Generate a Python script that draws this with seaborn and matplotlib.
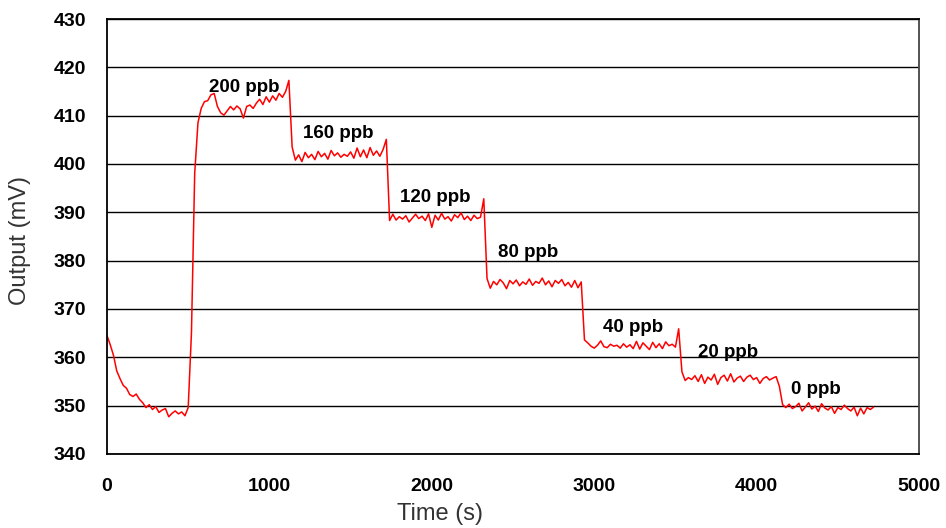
import numpy as np
import pandas as pd
import seaborn as sns
import matplotlib.pyplot as plt

# sensor output sampled every 20 s
time_s = np.arange(0, 4721, 20)
output_mv = [
    364.5, 362.6, 360.4, 357.2, 355.6, 354.2, 353.6, 352.3, 351.9, 352.4,
    351.3, 350.6, 349.6, 350.2, 349.2, 349.8, 348.6, 349.1, 349.4, 347.7,
    348.4, 348.9, 348.3, 348.7, 347.9, 349.6, 365.0, 398.0, 408.5, 411.5,
    412.9, 413.1, 414.3, 414.6, 411.9, 410.6, 410.1, 411.0, 411.9, 411.2,
    412.0, 411.4, 409.5, 411.9, 412.2, 411.5, 412.6, 413.4, 412.3, 413.9,
    412.8, 414.1, 413.2, 414.6, 413.8, 415.0, 417.3, 403.5, 400.8, 401.9,
    400.5, 402.4, 401.3, 402.0, 400.9, 402.6, 401.5, 402.2, 401.0, 402.8,
    401.7, 402.3, 401.4, 402.0, 401.6, 402.5, 401.2, 403.3, 401.5, 402.9,
    401.3, 403.4, 401.8, 402.7, 401.6, 403.0, 405.1, 388.3, 389.6, 388.4,
    389.1, 388.6, 389.3, 388.0, 388.8, 389.6, 388.7, 389.2, 388.3, 389.7,
    386.9, 389.4, 388.4, 389.8, 388.6, 389.1, 388.2, 389.5, 388.9, 389.9,
    388.5, 389.2, 388.3, 389.4, 388.7, 389.0, 392.8, 376.3, 374.3, 375.7,
    375.0, 376.1, 375.4, 374.2, 375.9, 375.2, 376.0, 374.8, 375.6, 375.1,
    376.2, 374.9, 375.7, 375.3, 376.4, 375.0, 375.8, 374.6, 375.9, 375.3,
    376.1, 374.8, 375.5, 374.5, 375.9, 374.4, 375.6, 363.6, 363.0, 362.3,
    361.9, 362.5, 363.4, 362.2, 362.0, 362.7, 362.3, 362.5, 361.9, 362.8,
    362.1, 362.6, 361.8, 363.3, 361.7, 363.0, 362.3, 361.6, 363.1, 362.0,
    362.8, 361.8, 363.2, 362.4, 362.7, 362.1, 365.9, 357.0, 355.2, 355.8,
    355.4, 356.2, 355.0, 356.4, 354.6, 355.9, 355.3, 356.5, 354.4, 355.8,
    356.3, 355.1, 356.6, 354.9, 355.7, 356.1, 355.0, 355.9, 356.3, 355.4,
    355.8, 354.6, 355.6, 356.0, 355.3, 355.7, 356.0, 354.0, 350.2, 349.6,
    350.3, 349.4, 349.8, 350.5, 348.9, 349.7, 350.6, 349.3, 349.9, 348.8,
    350.4, 349.5, 349.1, 349.8, 348.4, 349.6, 349.2, 350.1, 349.4, 348.9,
    349.7, 347.9, 349.5, 348.3, 349.6, 349.2, 349.7,
]

labels = ["200 ppb", "160 ppb", "120 ppb", "80 ppb", "40 ppb", "20 ppb", "0 ppb"]
label_x = [844, 1425, 2020, 2592, 3242, 3824, 4363]
label_y = [415.9, 406.4, 393.0, 381.6, 366.1, 360.9, 353.4]

df = pd.DataFrame({"time": time_s, "output": output_mv})

sns.set_theme(style="white")
plt.rcParams['font.family'] = ['Liberation Sans', 'DejaVu Sans']

fig = plt.figure(figsize=(9.46, 5.28), dpi=100)
ax = fig.add_axes([0.1131, 0.1402, 0.8584, 0.8238])

sns.lineplot(data=df, x="time", y="output", color="#ff0000", linewidth=1.1, ax=ax)

for txt, x, y in zip(labels, label_x, label_y):
    ax.text(x, y, txt, ha="center", va="center", fontsize=13.5, fontweight="bold", color="black")

ax.set_xlim(0, 5000)
ax.set_ylim(340, 430)
ax.set_xticks(range(0, 5001, 1000))
ax.set_yticks(range(340, 431, 10))
ax.yaxis.grid(True, color="black", linewidth=1.0)
ax.xaxis.grid(False)
ax.set_axisbelow(True)

for s in ax.spines.values():
    s.set_color("black")
    s.set_linewidth(1.3)
ax.spines['right'].set_color("#444444")

ax.tick_params(axis="both", direction="out", length=5, width=1, color="black",
               labelcolor="black", labelsize=14, pad=10)
ax.tick_params(axis="x", pad=12)
for lab in ax.get_xticklabels() + ax.get_yticklabels():
    lab.set_fontweight("bold")

ax.set_xlabel("Time (s)", fontsize=17, color="#333333")
ax.set_ylabel("Output (mV)", fontsize=17, color="#333333")
ax.xaxis.set_label_coords(0.41, -0.112)
ax.yaxis.set_label_coords(-0.094, 0.49)

fig.savefig("out.png", dpi=100)
